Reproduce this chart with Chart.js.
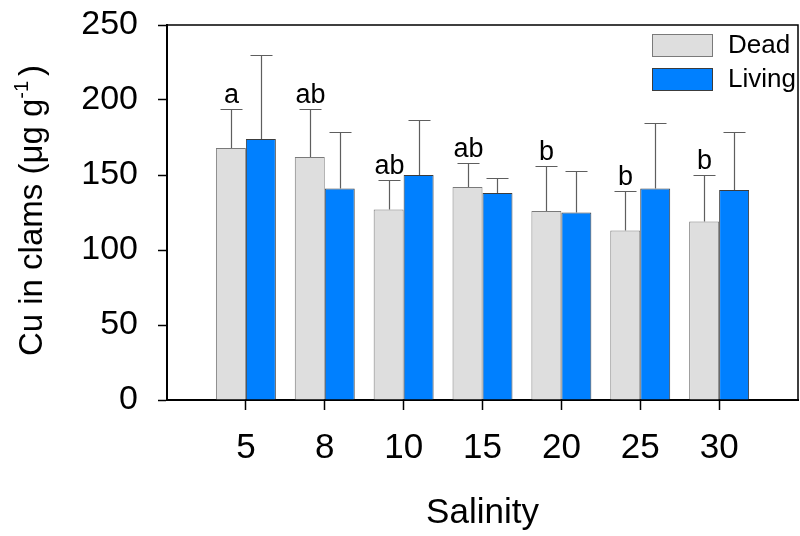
<!DOCTYPE html>
<html>
<head>
<meta charset="utf-8">
<script src="https://cdn.jsdelivr.net/npm/chart.js@4/dist/chart.umd.min.js"></script>
<style>
  html, body { margin: 0; padding: 0; background: #ffffff; }
  canvas { display: block; }
</style>
</head>
<body>
<canvas id="chart" width="800" height="536"></canvas>
<script>
// Cu concentration in clams by salinity (mean with upper error bar)
const salinity = ['5', '8', '10', '15', '20', '25', '30'];
const deadMean = [168, 162, 127, 142, 126, 113, 119];
const deadErr = [26, 32, 20, 16, 30, 26, 31];
const livingMean = [174, 141, 150, 138, 125, 141, 140];
const livingErr = [56, 38, 37, 10, 28, 44, 39];
const groupLetters = ['a', 'ab', 'ab', 'ab', 'b', 'b', 'b'];
const yTickValues = [0, 50, 100, 150, 200, 250];

const FONT = "'Liberation Sans', Arial, Helvetica, sans-serif";

// one empty slot at each end of the salinity axis
const pad = arr => [null, ...arr, null];
const xLabels = ['', ...salinity, ''];

const errorBars = {
  id: 'errorBars',
  afterDatasetsDraw(chart) {
    const ctx = chart.ctx;
    const y = chart.scales.y;
    const sets = [[0, deadMean, deadErr], [1, livingMean, livingErr]];
    ctx.save();
    sets.forEach(([di, means, errs]) => {
      const meta = chart.getDatasetMeta(di);
      means.forEach((m, i) => {
        const bar = meta.data[i + 1];
        const x = Math.round(bar.x) + 0.5;
        const top = y.getPixelForValue(m);
        const cap = Math.round(y.getPixelForValue(m + errs[i])) + 0.5;
        ctx.strokeStyle = '#5e5e5e';
        ctx.lineWidth = 1.2;
        ctx.beginPath();
        ctx.moveTo(x, top);
        ctx.lineTo(x, cap);
        ctx.moveTo(x - 11, cap);
        ctx.lineTo(x + 11, cap);
        ctx.stroke();
        if (di === 0) {
          ctx.fillStyle = '#000';
          ctx.font = '27px ' + FONT;
          ctx.textAlign = 'center';
          ctx.textBaseline = 'alphabetic';
          ctx.fillText(groupLetters[i], x, cap - 7);
        }
      });
    });
    ctx.restore();
  }
};

const frameAndLabels = {
  id: 'frameAndLabels',
  afterDraw(chart) {
    const ctx = chart.ctx;
    const a = chart.chartArea;
    ctx.save();
    // top and right frame lines
    ctx.strokeStyle = '#000';
    ctx.lineWidth = 1.5;
    ctx.beginPath();
    ctx.moveTo(a.left, a.top);
    ctx.lineTo(a.right, a.top);
    ctx.lineTo(a.right, a.bottom);
    ctx.stroke();

    // legend in the upper right corner
    ctx.font = '26px ' + FONT;
    ctx.textAlign = 'left';
    ctx.textBaseline = 'middle';
    chart.data.datasets.forEach((ds, k) => {
      const bx = a.right - 146;
      const by = a.top + 9 + k * 34;
      ctx.fillStyle = ds.backgroundColor;
      ctx.fillRect(bx, by, 60, 22);
      ctx.strokeStyle = ds.borderColor;
      ctx.lineWidth = 1;
      ctx.strokeRect(bx + 0.5, by + 0.5, 60, 22);
      ctx.fillStyle = '#000';
      ctx.fillText(ds.label, a.right - 70, by + 12);
    });

    // y-axis title with superscript
    const main = 'Cu in clams (\u03bcg g';
    const sup = '-1';
    const tail = ')';
    ctx.fillStyle = '#000';
    ctx.textBaseline = 'alphabetic';
    ctx.font = '33px ' + FONT;
    const wMain = ctx.measureText(main).width;
    const wTail = ctx.measureText(tail).width;
    ctx.font = '20px ' + FONT;
    const wSup = ctx.measureText(sup).width;
    const gap = 5;
    const total = wMain + wSup + gap + wTail;
    ctx.translate(42, (a.top + a.bottom) / 2 - 2);
    ctx.rotate(-Math.PI / 2);
    let px = -total / 2;
    ctx.font = '33px ' + FONT;
    ctx.fillText(main, px, 0);
    px += wMain;
    ctx.font = '20px ' + FONT;
    ctx.fillText(sup, px, -14);
    px += wSup + gap;
    ctx.font = '33px ' + FONT;
    ctx.fillText(tail, px, 0);
    ctx.restore();
  }
};

new Chart(document.getElementById('chart'), {
  type: 'bar',
  data: {
    labels: xLabels,
    datasets: [
      {
        label: 'Dead',
        data: pad(deadMean),
        backgroundColor: '#dedede',
        borderColor: '#7a7a7a',
        borderWidth: 1,
        borderSkipped: 'bottom'
      },
      {
        label: 'Living',
        data: pad(livingMean),
        backgroundColor: '#0080ff',
        borderColor: '#3c3c3c',
        borderWidth: 1,
        borderSkipped: 'bottom'
      }
    ]
  },
  options: {
    responsive: false,
    animation: false,
    devicePixelRatio: 1,
    layout: { padding: { left: 0, top: 25, right: 2, bottom: 0 } },
    plugins: {
      legend: { display: false },
      tooltip: { enabled: false }
    },
    datasets: {
      bar: { categoryPercentage: 0.76, barPercentage: 1.0 }
    },
    scales: {
      x: {
        type: 'category',
        offset: false,
        afterFit(scale) {
          scale.height = 136;
          scale.paddingLeft = 0;
          scale.paddingRight = 0;
        },
        border: { display: true, color: '#000', width: 2 },
        grid: {
          offset: false,
          drawOnChartArea: false,
          drawTicks: true,
          tickLength: 10,
          tickWidth: 1.5,
          color: c => (c.index === 0 || c.index === xLabels.length - 1) ? 'rgba(0,0,0,0)' : '#000',
          tickColor: c => (c.index === 0 || c.index === xLabels.length - 1) ? 'rgba(0,0,0,0)' : '#000'
        },
        ticks: {
          color: '#000',
          font: { family: FONT, size: 35 },
          padding: 17,
          maxRotation: 0,
          autoSkip: false
        },
        title: {
          display: true,
          text: 'Salinity',
          color: '#000',
          font: { family: FONT, size: 35 },
          padding: { top: 0, bottom: 2 }
        }
      },
      y: {
        min: 0,
        max: 250,
        afterFit(scale) {
          scale.width = 167;
          scale.paddingTop = 0;
          scale.paddingBottom = 0;
        },
        afterBuildTicks(scale) { scale.ticks = yTickValues.map(v => ({ value: v })); },
        border: { display: true, color: '#000', width: 2 },
        grid: {
          drawOnChartArea: false,
          drawTicks: true,
          tickLength: 9,
          tickWidth: 1.5,
          color: '#000',
          tickColor: '#000'
        },
        ticks: {
          color: '#000',
          font: { family: FONT, size: 34 },
          padding: 20
        },
        title: { display: false }
      }
    }
  },
  plugins: [errorBars, frameAndLabels]
});
</script>
</body>
</html>
